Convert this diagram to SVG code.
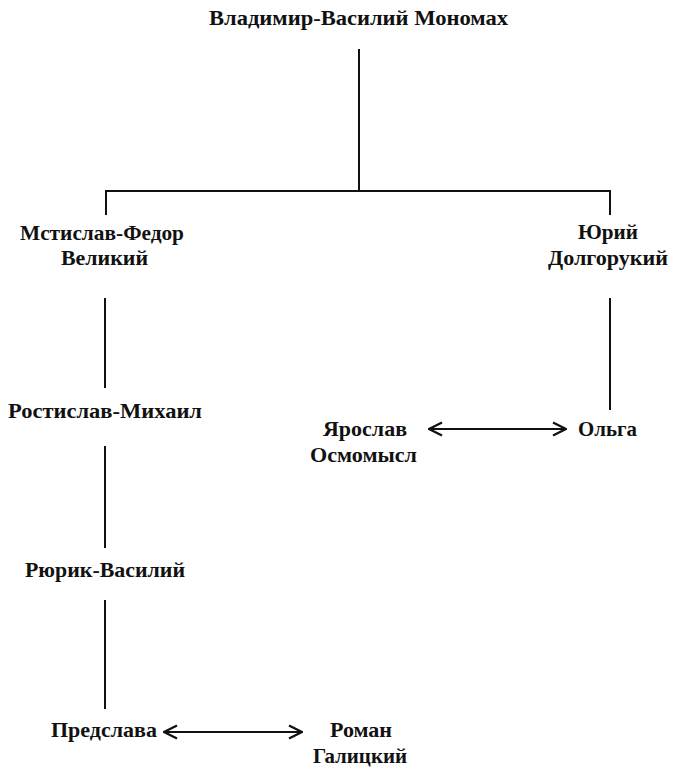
<svg xmlns="http://www.w3.org/2000/svg" width="675" height="774" viewBox="0 0 675 774">
<style>
  text { font-family: "Liberation Serif", "Times New Roman", serif; font-size: 21px; font-weight: bold; fill: #111; text-anchor: middle; }
  .ln { stroke: #111; stroke-width: 2; fill: none; }
  .arr { stroke: #111; stroke-width: 2; fill: none; marker-start: url(#head); marker-end: url(#head); }
</style>
<defs>
  <marker id="head" viewBox="0 0 16 16" refX="15" refY="8" markerWidth="16" markerHeight="16" markerUnits="userSpaceOnUse" orient="auto-start-reverse">
    <polyline points="2,1.5 15,8 2,14.5" fill="none" stroke="#111" stroke-width="2.4"/>
  </marker>
</defs>
<rect width="675" height="774" fill="#fff"/>
<g id="connectors">
  <line class="ln" x1="359" y1="49" x2="359" y2="191"/>
  <line class="ln" x1="105" y1="191" x2="611" y2="191"/>
  <line class="ln" x1="106" y1="190" x2="106" y2="215"/>
  <line class="ln" x1="610" y1="190" x2="610" y2="215"/>
  <line class="ln" x1="105" y1="298" x2="105" y2="388"/>
  <line class="ln" x1="105" y1="446" x2="105" y2="548"/>
  <line class="ln" x1="105" y1="600" x2="105" y2="709"/>
  <line class="ln" x1="610" y1="298" x2="610" y2="410"/>
  <line class="arr" x1="429" y1="429" x2="566" y2="429"/>
  <line class="arr" x1="164" y1="732" x2="302" y2="732"/>
</g>
<g id="n-vladimir"><text x="358.5" y="25" textLength="299" lengthAdjust="spacingAndGlyphs">Владимир-Василий Мономах</text></g>
<g id="n-mstislav"><text x="102" y="240" textLength="164" lengthAdjust="spacingAndGlyphs">Мстислав-Федор</text><text x="104.5" y="265" textLength="87" lengthAdjust="spacingAndGlyphs">Великий</text></g>
<g id="n-yuri"><text x="608" y="239" textLength="60" lengthAdjust="spacingAndGlyphs">Юрий</text><text x="608" y="265" textLength="120" lengthAdjust="spacingAndGlyphs">Долгорукий</text></g>
<g id="n-rostislav"><text x="105" y="418" textLength="194" lengthAdjust="spacingAndGlyphs">Ростислав-Михаил</text></g>
<g id="n-yaroslav"><text x="365" y="436" textLength="84" lengthAdjust="spacingAndGlyphs">Ярослав</text><text x="363.5" y="462" textLength="107" lengthAdjust="spacingAndGlyphs">Осмомысл</text></g>
<g id="n-olga"><text x="607.5" y="436" textLength="59" lengthAdjust="spacingAndGlyphs">Ольга</text></g>
<g id="n-ryurik"><text x="105" y="577" textLength="160" lengthAdjust="spacingAndGlyphs">Рюрик-Василий</text></g>
<g id="n-predslava"><text x="104" y="737" textLength="106" lengthAdjust="spacingAndGlyphs">Предслава</text></g>
<g id="n-roman"><text x="361" y="737" textLength="62" lengthAdjust="spacingAndGlyphs">Роман</text><text x="360" y="763" textLength="94" lengthAdjust="spacingAndGlyphs">Галицкий</text></g>
</svg>
